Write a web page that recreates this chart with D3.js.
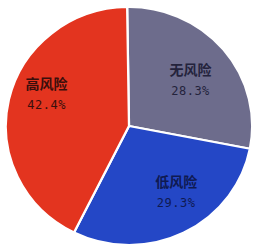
<!DOCTYPE html>
<html>
<head>
<meta charset="utf-8">
<script src="https://cdn.jsdelivr.net/npm/d3@7"></script>
<style>
	html, body { margin: 0; padding: 0; background: #fff; }
	svg { display: block; }
</style>
</head>
<body>
<div id="chart"></div>
<script>
// data
var categories = ["无风险", "低风险", "高风险"];
var shares = [28.3, 29.3, 42.4];
var shareLabels = ["28.3%", "29.3%", "42.4%"];

var colors = ["#6d6c8c", "#2447c6", "#e3341f"];
var textColors = ["#24233c", "#0f1a52", "#3a0f0c"];

var width = 253, height = 246;
var cx = 129, cy = 126, r = 119;

// label nudges (angle in degrees, radius) for each slice, tuned by eye
var labelSpots = {
	"无风险": { angle: 51, dist: 74 },
	"低风险": { angle: 146, dist: 78 },
	"高风险": { angle: 292, dist: 88 }
};

var svg = d3.select("#chart").append("svg")
	.attr("width", width)
	.attr("height", height);

var g = svg.append("g")
	.attr("transform", "translate(" + cx + "," + cy + ") scale(1.035,1)");

var pie = d3.pie()
	.sort(null)
	.startAngle(-0.015)
	.endAngle(2 * Math.PI - 0.015)
	.value(function(d){ return d; });

var arc = d3.arc()
	.innerRadius(0)
	.outerRadius(r);

var arcs = pie(shares);

g.selectAll("path.slice")
	.data(arcs)
	.enter().append("path")
		.attr("class", "slice")
		.attr("d", arc)
		.attr("fill", function(d, i){ return colors[i]; })
		.attr("stroke", "#fff")
		.attr("stroke-width", 2.2)
		.attr("stroke-linejoin", "round");

var labels = svg.append("g");

arcs.forEach(function(d, i){
	var spot = labelSpots[categories[i]];
	var a = spot.angle * Math.PI / 180;
	var x = cx + 2 + Math.sin(a) * spot.dist * 1.035;
	var y = cy + 2 - Math.cos(a) * spot.dist;

	labels.append("text")
		.attr("x", x)
		.attr("y", y - 6)
		.attr("text-anchor", "middle")
		.attr("font-family", "Noto Sans CJK SC, sans-serif")
		.attr("font-weight", "bold")
		.attr("font-size", 14)
		.attr("fill", textColors[i])
		.text(categories[i]);

	labels.append("text")
		.attr("x", x)
		.attr("y", y + 14)
		.attr("text-anchor", "middle")
		.attr("font-family", "DejaVu Sans Mono, monospace")
		.attr("font-size", 12)
		.attr("letter-spacing", 0.5)
		.attr("fill", textColors[i])
		.text(shareLabels[i]);
});
</script>
</body>
</html>
